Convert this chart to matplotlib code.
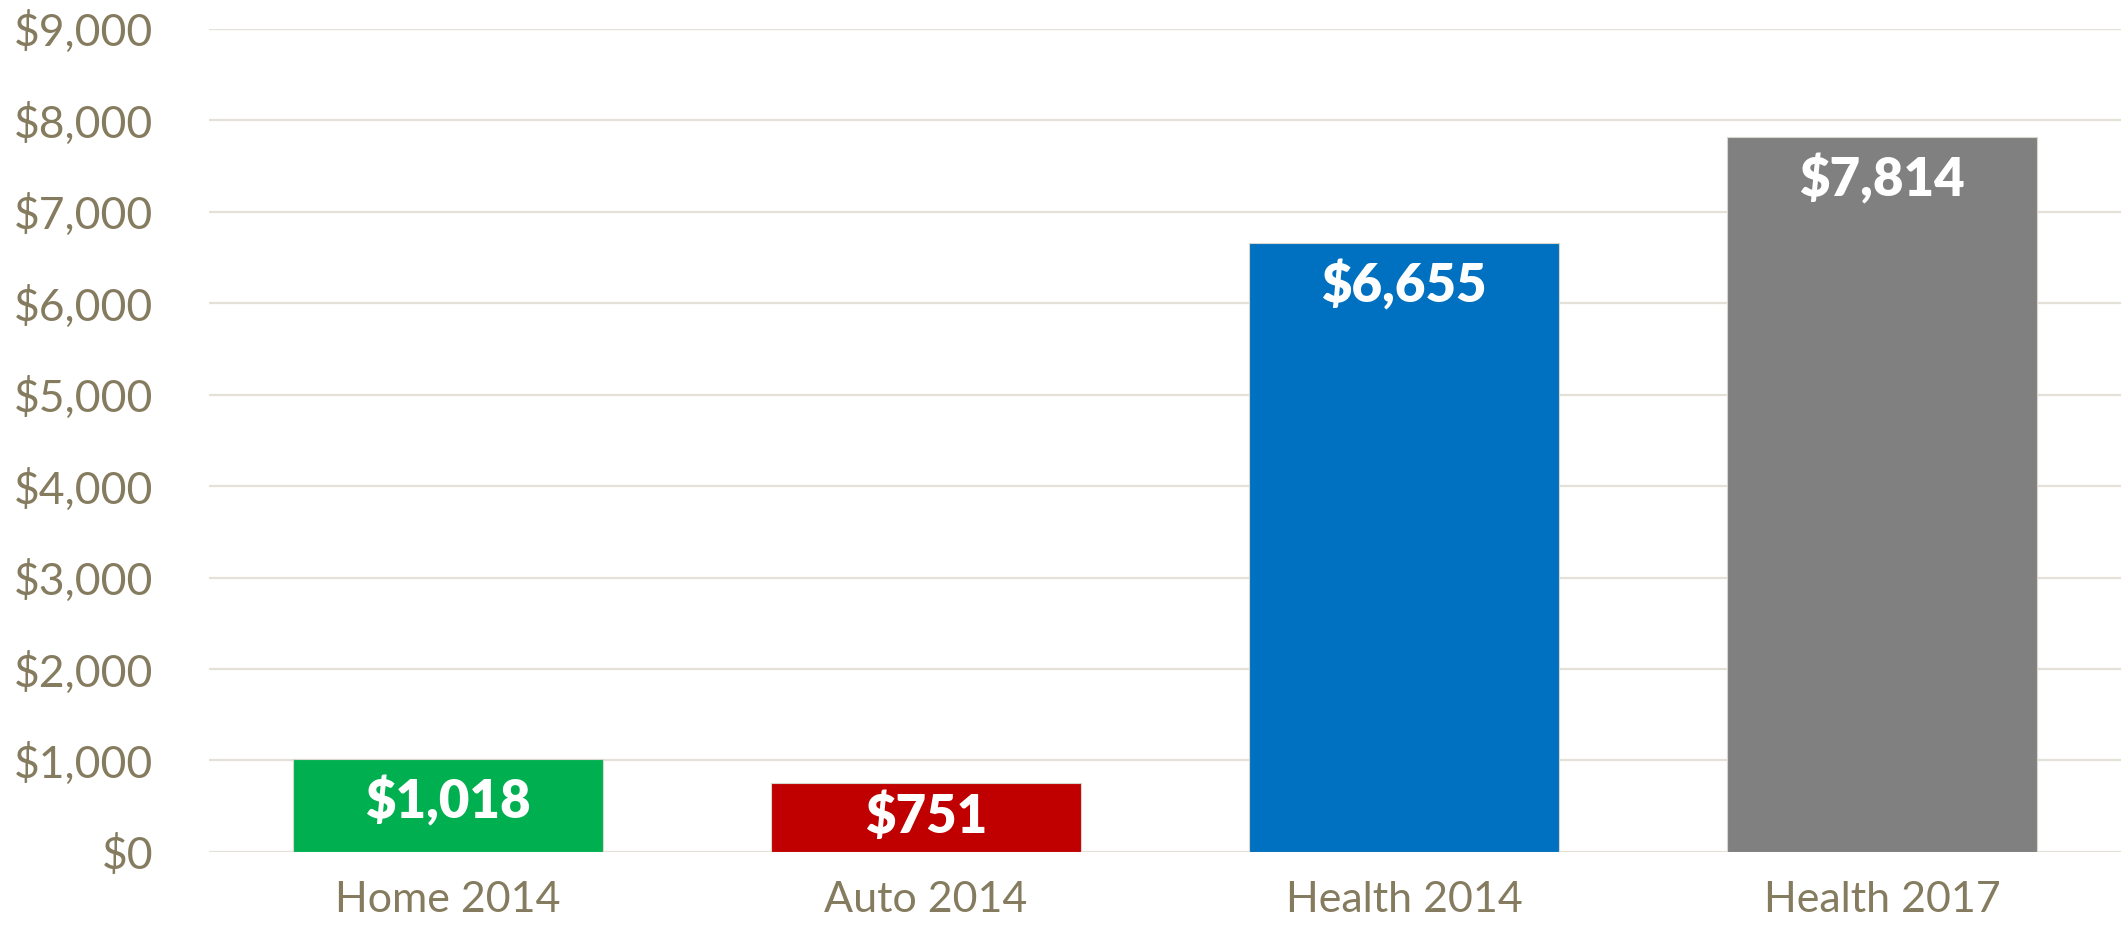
import numpy as np
import matplotlib
matplotlib.use("Agg")
import matplotlib.pyplot as plt
from matplotlib.ticker import FuncFormatter

# Data
categories = ["Home 2014", "Auto 2014", "Health 2014", "Health 2017"]
values = [1018, 751, 6655, 7814]
bar_colors = ["#00B050", "#C00000", "#0070C0", "#808080"]
y_ticks = list(range(0, 9001, 1000))

text_color = "#857B5F"
grid_color = "#E4E1D9"
plt.rcParams["font.family"] = ["Lato", "DejaVu Sans"]

fig = plt.figure(figsize=(21.24, 9.26), dpi=100)
ax = fig.add_axes([0.0984, 0.080, 0.9002, 0.889])

x = np.arange(len(categories))
bars = ax.bar(x, values, width=0.65, color=bar_colors, edgecolor="#D9D6CE",
              linewidth=0.8, zorder=3)

ax.set_xlim(-0.5, len(categories) - 0.5)
ax.set_ylim(0, 9000)
ax.set_yticks(y_ticks)
ax.yaxis.set_major_formatter(FuncFormatter(lambda v, p: f"${v:,.0f}"))
ax.set_xticks(x)
ax.set_xticklabels(categories)

ax.grid(axis="y", color=grid_color, linewidth=1.6, zorder=0)
for s in ax.spines.values():
    s.set_visible(False)
ax.tick_params(axis="both", length=0, labelcolor=text_color)
ax.tick_params(axis="y", pad=40, labelsize=32)
ax.tick_params(axis="x", pad=21, labelsize=31)

# value labels inside the top of each bar
offset = 470  # data units below the bar top
for xi, v in zip(x, values):
    y = max(v - offset, v / 2)
    ax.text(xi, y, f"${v:,}", ha="center", va="center", color="white",
            fontsize=38, fontweight="heavy", zorder=4)

fig.savefig("out.png", dpi=100)
